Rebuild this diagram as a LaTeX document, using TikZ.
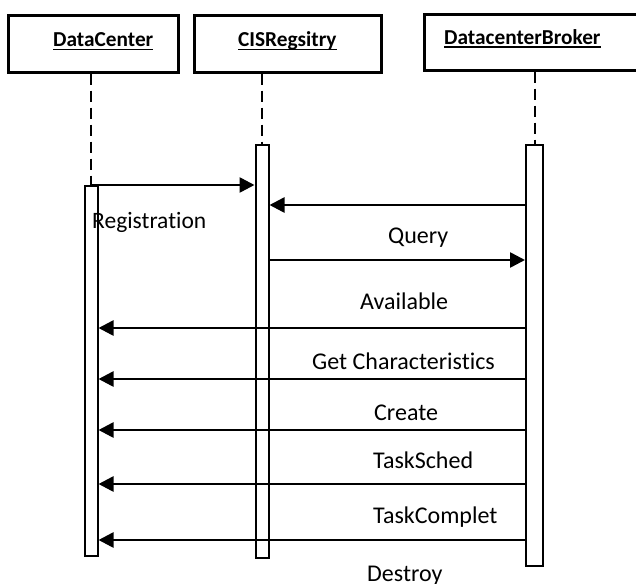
\documentclass[tikz,border=0pt]{standalone}
\usepackage{fontspec}
\setmainfont{Carlito}[Ligatures={NoCommon}]
\usetikzlibrary{arrows.meta}
\newcommand\hdul[1]{\setbox0\hbox{#1}\rlap{\rule[-3.3pt]{\wd0}{1.3pt}}\box0}
\begin{document}
\begin{tikzpicture}[x=1pt,y=-1pt,
  head/.style={draw, line width=2.6pt, inner sep=0pt, anchor=north west},
  hdtext/.style={font=\bfseries\fontsize{21.3pt}{24pt}\selectfont, inner sep=0pt, anchor=base west},
  lbl/.style={font=\fontsize{24pt}{28pt}\selectfont, inner sep=0pt, anchor=base west},
  life/.style={line width=2pt, dash pattern=on 11pt off 6pt},
  bar/.style={draw, fill=white, line width=2pt, inner sep=0pt, anchor=north west},
  msg/.style={line width=2.6pt, -{Triangle[length=15pt,width=15pt]}}]
\useasboundingbox (0,0) rectangle (636,583);
\clip (0,0) rectangle (636,583);
% object boxes
\node[head, minimum width=170pt, minimum height=57pt] (dc) at (7,14) {};
\node[head, minimum width=187pt, minimum height=57pt] (cis) at (193,14) {};
\node[head, minimum width=240pt, minimum height=56pt] (brk) at (423,13) {};
\node[hdtext] (dct) at (53,46.7) {\hdul{DataCenter}};
\node[hdtext] (cist) at (238,46.7) {\hdul{CISRegsitry}};
\node[hdtext] (brkt) at (444,44.3) {\hdul{DatacenterBroker}};
% message labels
\node[lbl] (l2) at (388,243.3) {Query};
\node[lbl] (l3) at (360,309.5) {Available};
\node[lbl] (l4) at (312,369.3) {Get Characteristics};
\node[lbl] (l5) at (374,420) {Create};
\node[lbl] (l6) at (373,468.3) {TaskSched};
\node[lbl] (l7) at (373,523.3) {TaskComplet};
\node[lbl] (l8) at (367,581) {Destroy};
% activation bars
\node[bar, minimum width=13pt, minimum height=370pt] (dcbar) at (83.5,185) {};
\node[bar, minimum width=13pt, minimum height=413pt] (cisbar) at (254.5,144) {};
\node[bar, minimum width=17pt, minimum height=421pt] (brkbar) at (525,144) {};
\node[lbl, font=\fontsize{23.5pt}{28pt}\selectfont] (l1) at (92,228.3) {Registration};
% lifelines
\draw[life] (dc.south -| dcbar.north) -- (dcbar.north);
\draw[life] (cis.south -| cisbar.north) -- (cisbar.north);
\draw[life] (brk.south -| brkbar.north) -- (brkbar.north);
% message levels
\coordinate (y1) at (0,185);
\coordinate (y2) at (0,205);
\coordinate (y3) at (0,260);
\coordinate (y4) at (0,328);
\coordinate (y5) at (0,379);
\coordinate (y6) at (0,430);
\coordinate (y7) at (0,484);
\coordinate (y8) at (0,540);
% messages
\draw[msg] (dcbar.north) -- (cisbar.west |- y1);
\draw[msg] (brkbar.west |- y2) -- (cisbar.east |- y2);
\draw[msg] (cisbar.east |- y3) -- (brkbar.west |- y3);
\draw[msg] (brkbar.west |- y4) -- (dcbar.east |- y4);
\draw[msg] (brkbar.west |- y5) -- (dcbar.east |- y5);
\draw[msg] (brkbar.west |- y6) -- (dcbar.east |- y6);
\draw[msg] (brkbar.west |- y7) -- (dcbar.east |- y7);
\draw[msg] (brkbar.west |- y8) -- (dcbar.east |- y8);
\end{tikzpicture}
\end{document}
